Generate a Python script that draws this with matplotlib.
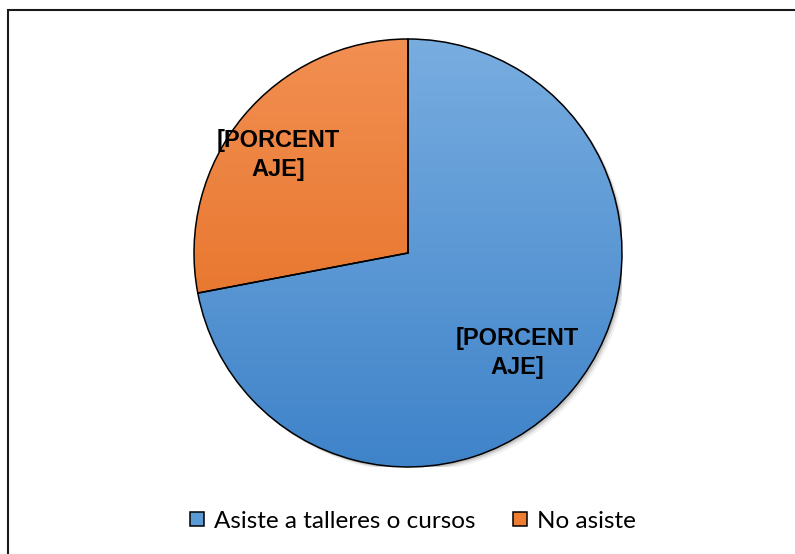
import matplotlib

matplotlib.use("Agg")

import matplotlib.pyplot as plt
import numpy as np
from matplotlib.colors import LinearSegmentedColormap
from matplotlib.patches import Rectangle, Circle

# data
categories = ["Asiste a talleres o cursos", "No asiste"]
values = [72, 28]
label_text = "[PORCENT\nAJE]"
top_colors = ["#78ade0", "#f28f52"]
bottom_colors = ["#3f83c9", "#e2691a"]

W, H = 795, 554
fig = plt.figure(figsize=(W / 100, H / 100), dpi=100)

# pie centre (408, 253) px, radius 214 px
cx, cy, r = 408, 253, 214
ax = fig.add_axes([(cx - r) / W, (H - cy - r) / H, 2 * r / W, 2 * r / H])

# soft shadow
for k, a in [(6, 0.05), (4, 0.08), (2.5, 0.12)]:
    ax.add_patch(Circle((k / r * 0.8, -k / r * 0.8), 1.0, color="#000000", alpha=a, lw=0, zorder=0))
ax.add_patch(Circle((0, 0), 1.0, color="white", lw=0, zorder=0.5))

wedges, texts = ax.pie(
    values,
    radius=1.0,
    startangle=90,
    counterclock=False,
    wedgeprops=dict(edgecolor="black", linewidth=1.1, facecolor="none", zorder=3),
    frame=True,
)
ax.set_xlim(-1, 1)
ax.set_ylim(-1, 1)
ax.set_aspect("equal")
ax.axis("off")

grad = np.linspace(1, 0, 256).reshape(-1, 1)
for w, top, bot in zip(wedges, top_colors, bottom_colors):
    cmap = LinearSegmentedColormap.from_list("g", [bot, top])
    im = ax.imshow(grad, cmap=cmap, extent=[-1, 1, -1, 1], aspect="auto", zorder=1, origin="upper", vmin=0, vmax=1)
    im.set_clip_path(w)

# labels
dists = [0.69, 0.76]
ang_shift = [-2.8, 2.7]
for w, d, s in zip(wedges, dists, ang_shift):
    ang = np.deg2rad((w.theta1 + w.theta2) / 2 + s)
    ax.text(d * np.cos(ang), d * np.sin(ang), label_text, ha="center", va="center",
            fontsize=17, fontweight="bold", family="Liberation Sans", linespacing=1.33, zorder=5)

handles = [Rectangle((0, 0), 1, 1, facecolor=c, edgecolor="black", linewidth=1.1) for c in
           ["#5b9bd5", "#ed7d31"]]
fig.legend(handles, categories, loc="center", bbox_to_anchor=(413 / W, 1 - 521 / H), ncol=2,
           frameon=False, prop={"family": "Lato", "size": 17.5}, handlelength=0.55, handleheight=0.55,
           handletextpad=0.42, columnspacing=1.55)

fig.patches.append(Rectangle((8 / W, -0.05), 1.1, 1 - 10 / H + 0.05, transform=fig.transFigure,
                             fill=False, edgecolor="#1a1a1a", linewidth=1.5))

fig.savefig("out.png", dpi=100)
